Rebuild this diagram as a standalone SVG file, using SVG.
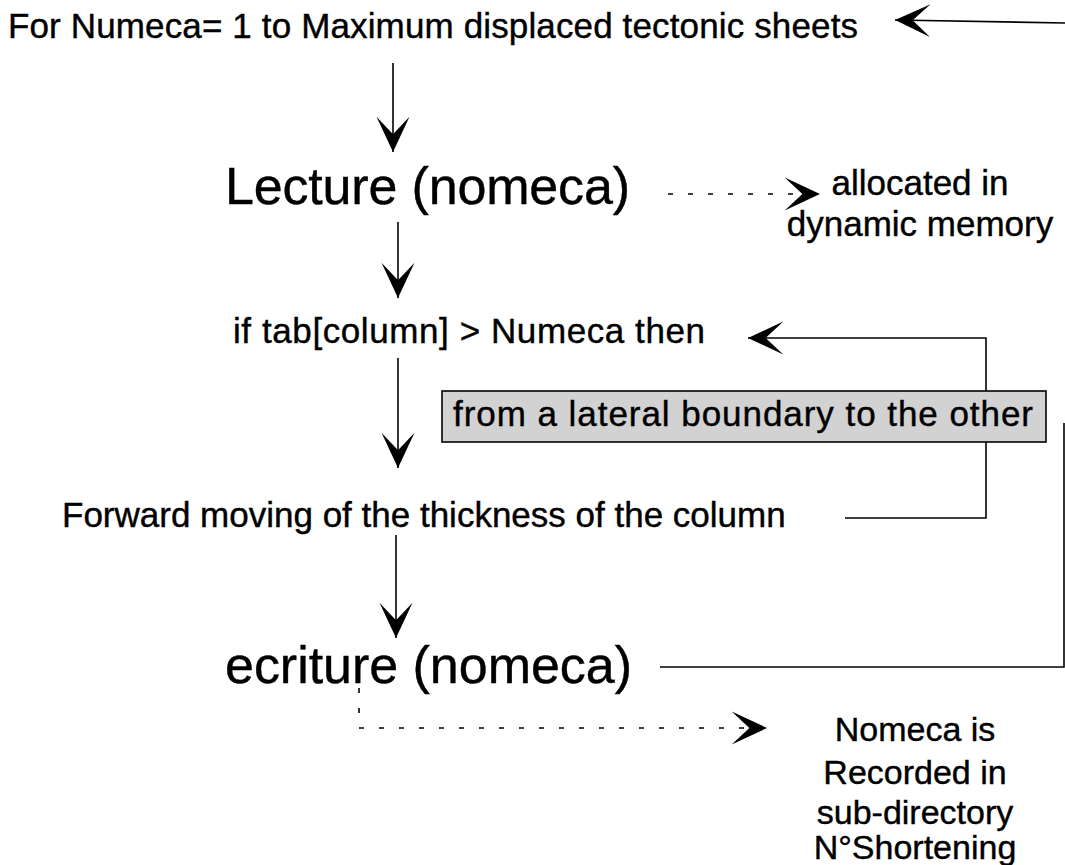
<svg xmlns="http://www.w3.org/2000/svg" width="1065" height="865" viewBox="0 0 1065 865">
<style>
text{font-family:"Liberation Sans",Arial,Helvetica,sans-serif;fill:#000;stroke:#000;stroke-width:0.4}
.m{font-size:35px}
.r{font-size:34px}
.b{font-size:52px}
.ln{fill:none;stroke:#000;stroke-width:1.6}
.dt{fill:none;stroke:#000;stroke-width:1.6;stroke-dasharray:5 15}
</style>
<defs>
<marker id="ah" markerUnits="userSpaceOnUse" markerWidth="40" markerHeight="40" viewBox="-32 -16 34 32" refX="0" refY="0" orient="auto">
<path d="M0,0 L-30,-14 L-15,0 L-30,14 Z" fill="#000"/>
</marker>
</defs>
<rect width="1065" height="865" fill="#fff"/>
<g id="connectors">
<path class="ln" d="M1065,23 L895,20" marker-end="url(#ah)"/>
<path class="ln" d="M393,63 L393,152" marker-end="url(#ah)"/>
<path class="dt" d="M668,194 L820,194" marker-end="url(#ah)"/>
<path class="ln" d="M398,222 L398,298" marker-end="url(#ah)"/>
<path class="ln" d="M845,518 L986,518 L986,338 L748,338" marker-end="url(#ah)"/>
<path class="ln" d="M398,358 L398,468" marker-end="url(#ah)"/>
<path class="ln" d="M396,535 L396,638" marker-end="url(#ah)"/>
<path class="ln" d="M660,667 L1064,667 L1064,423"/>
<path class="dt" d="M359,688 L359,728 L767,728" marker-end="url(#ah)"/>
</g>
<g id="n-loop"><text class="m" x="8" y="38" textLength="850">For Numeca= 1 to Maximum displaced tectonic sheets</text></g>
<g id="n-lecture"><text class="b" x="225" y="204" textLength="405">Lecture (nomeca)</text></g>
<g id="n-alloc"><text class="m" x="920" y="195" text-anchor="middle">allocated in</text><text class="m" x="920" y="236" text-anchor="middle">dynamic memory</text></g>
<g id="n-if"><text class="m" x="233" y="343" textLength="472">if tab[column] &gt; Numeca then</text></g>
<g id="n-box"><rect x="442" y="391" width="604" height="51" fill="#d2d2d2" stroke="#000" stroke-width="1.6"/><text class="m" x="453" y="426" textLength="580">from a lateral boundary to the other</text></g>
<g id="n-forward"><text class="m" x="62" y="527">Forward moving of the  thickness of the column</text></g>
<g id="n-ecriture"><text class="b" x="225" y="683" textLength="407">ecriture (nomeca)</text></g>
<g id="n-record"><text class="r" x="915" y="741" text-anchor="middle">Nomeca is</text><text class="r" x="915" y="784" text-anchor="middle">Recorded in</text><text class="r" x="915" y="824" text-anchor="middle">sub-directory</text><text class="r" x="915" y="859" text-anchor="middle">N°Shortening</text></g>
</svg>
